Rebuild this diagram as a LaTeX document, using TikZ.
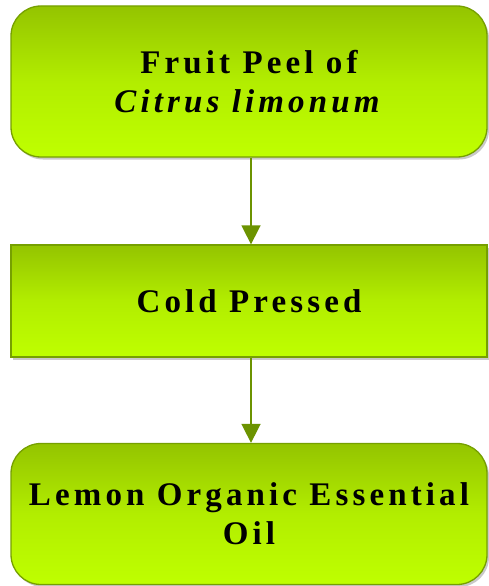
\documentclass[tikz,border=0pt]{standalone}
\usepackage{fontspec}
\setmainfont{Liberation Serif}
\usetikzlibrary{arrows.meta,shadows}
\definecolor{gtop}{HTML}{94C400}
\definecolor{gbot}{HTML}{BFFF00}
\definecolor{gborder}{HTML}{76A000}
\definecolor{garrow}{HTML}{6C9300}
\tikzset{
  flowbox/.style={draw=gborder, line width=1.3pt, top color=gtop, bottom color=gbot,
    middle color=gbot!70!gtop, minimum width=476pt, inner sep=0pt, align=center,
    font=\fontsize{33}{39}\selectfont\bfseries\addfontfeature{LetterSpace=12.5},
    drop shadow={shadow xshift=2pt, shadow yshift=-2.5pt, opacity=0.35, fill=black!60}},
  roundbox/.style={flowbox, rounded corners=30pt},
  flowarrow/.style={draw=garrow, line width=1.6pt, -{Triangle[length=19pt,width=19pt]}, color=garrow}
}
\begin{document}
\begin{tikzpicture}[x=1pt,y=-1pt]
\useasboundingbox (0,0) rectangle (489,586);
\fill[white] (0,0) rectangle (489,586);
\node[roundbox, minimum height=151pt] (peel) at (249,81.5) {Fruit Peel of\\\textit{Citrus limonum}};
\node[flowbox, minimum height=112pt] (cold) at (249,301) {Cold Pressed};
\node[roundbox, minimum height=141pt] (oil) at (249,514) {Lemon Organic Essential\\Oil};
\draw[flowarrow] (peel.south -| 251,0) -- (cold.north -| 251,0);
\draw[flowarrow] (cold.south -| 251,0) -- (oil.north -| 251,0);
\end{tikzpicture}
\end{document}
